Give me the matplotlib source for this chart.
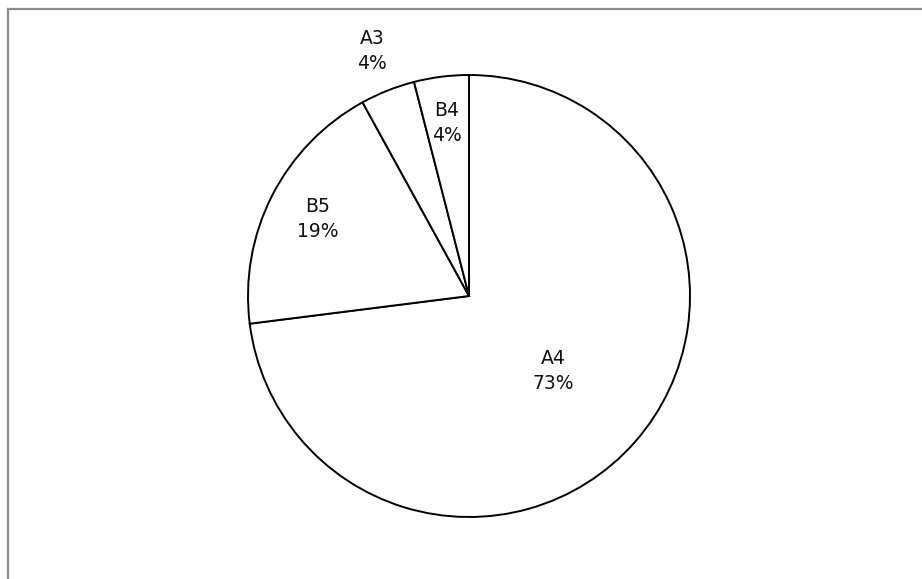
import numpy as np
import matplotlib.pyplot as plt
from matplotlib.lines import Line2D

# slice data, clockwise from 12 o'clock
labels = ["A4", "B5", "A3", "B4"]
shares = [73, 19, 4, 4]

# how far from the centre each label sits (fraction of radius)
label_dist = [0.51, 0.77, 1.19, 0.79]

fig = plt.figure(figsize=(9.22, 5.79), dpi=100)

# pie centre ~ (469, 296) px, radius ~ 221 px
cx, cy, r = 469, 296, 221
W, H = 922, 579
ax = fig.add_axes([(cx - r) / W, (H - cy - r) / H, 2 * r / W, 2 * r / H])

wedges, _ = ax.pie(shares, startangle=90, counterclock=False,
                   colors=["white"] * len(shares),
                   wedgeprops=dict(edgecolor="black", linewidth=1.4))
ax.set_xlim(-1, 1)
ax.set_ylim(-1, 1)
ax.set_aspect("auto")
ax.axis("off")

for w, lab, pct, d in zip(wedges, labels, shares, label_dist):
    mid = np.radians((w.theta1 + w.theta2) / 2)
    ax.text(d * np.cos(mid), d * np.sin(mid), f"{lab}\n{pct}%",
            ha="center", va="center", fontsize=13.5, linespacing=1.4,
            color="#111111")

# chart-area border (only left and top visible in the crop)
fig.add_artist(Line2D([8 / W, 8 / W], [0, 1 - 9 / H], color="#8c8c8c", lw=1.6))
fig.add_artist(Line2D([8 / W, 1], [1 - 9 / H, 1 - 9 / H], color="#8c8c8c", lw=1.6))

fig.savefig("out.png", dpi=100)
